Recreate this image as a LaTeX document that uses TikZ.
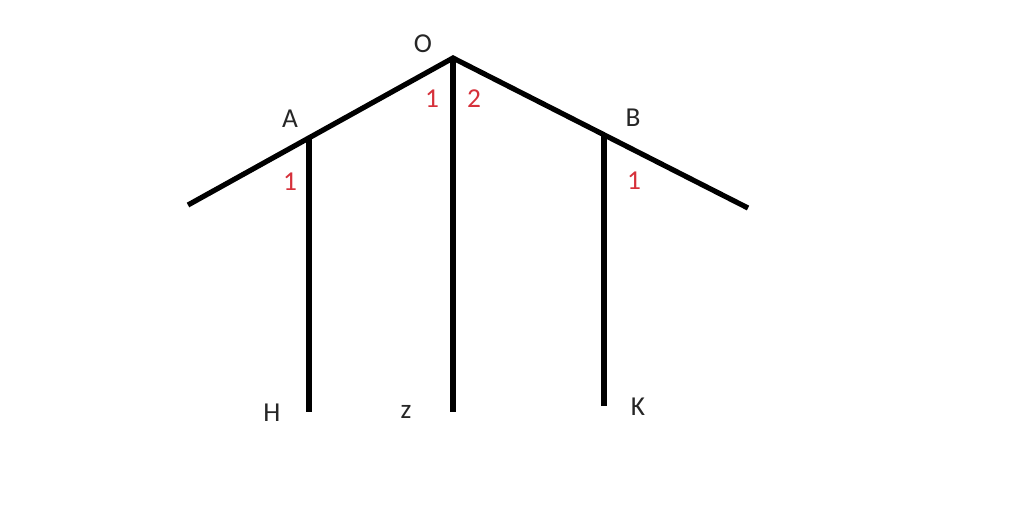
\documentclass[tikz,border=0pt]{standalone}
\usepackage{fontspec}
\setmainfont{Carlito}
\definecolor{numred}{RGB}{214,48,58}
\tikzset{
  beam/.style={line width=3.9pt, black},
  lbl/.style={inner sep=0pt, font=\fontsize{20.5}{24}\selectfont, text=black!85},
  num/.style={inner sep=0pt, font=\fontsize{20.5}{24}\selectfont, text=numred}
}
\begin{document}
\begin{tikzpicture}[x=0.75pt,y=-0.75pt]
\useasboundingbox[fill=white] (0,0) rectangle (1024,522);
\coordinate (L) at (188,205);
\coordinate (O) at (453,58);
\coordinate (R) at (748,208);
\coordinate (A) at (309,138);
\coordinate (B) at (604,134.8);
\coordinate (Hb) at (309,412);
\coordinate (Zb) at (453,412);
\coordinate (Kb) at (604,406);
\draw[beam] (L) -- (O) -- (R);
\draw[beam] (A) -- (Hb);
\draw[beam] (O) -- (Zb);
\draw[beam] (B) -- (Kb);
\node[lbl] (tO) at (423,44) {O};
\node[lbl] (tA) at (290,119) {A};
\node[lbl] (tB) at (633,118) {B};
\node[lbl] (tH) at (272,413) {H};
\node[lbl] (tz) at (406,412) {z};
\node[lbl] (tK) at (638,407) {K};
\node[num] (n1) at (290,182) {1};
\node[num] (n2) at (432,99) {1};
\node[num] (n3) at (474,99) {2};
\node[num] (n4) at (634,181) {1};
\end{tikzpicture}
\end{document}
